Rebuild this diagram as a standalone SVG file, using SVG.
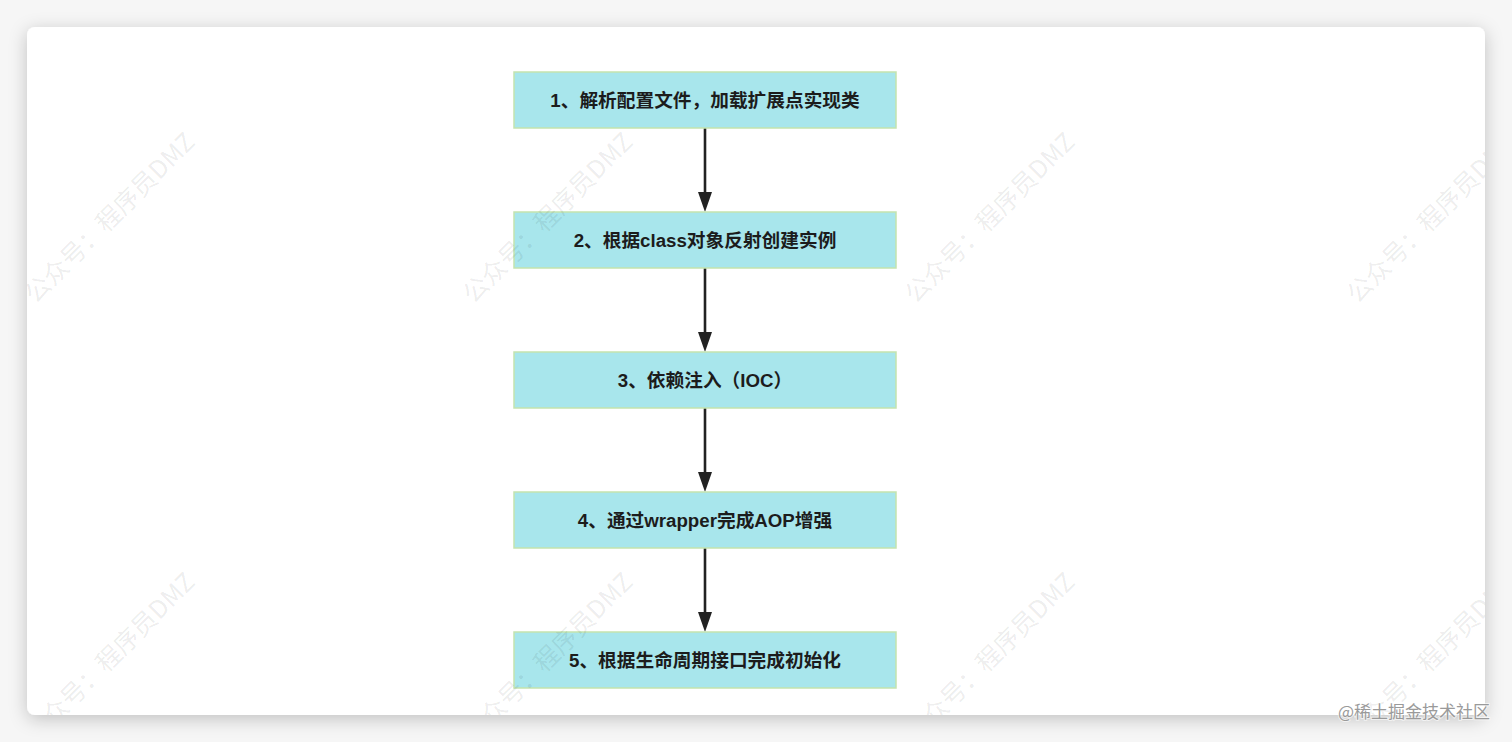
<svg xmlns="http://www.w3.org/2000/svg" width="1512" height="742" viewBox="0 0 1512 742">
  <style>
    .box { fill: #a8e6ec; stroke: #c3e3ae; stroke-width: 1.5; }
    .lbl { font-family: "Liberation Sans", "Noto Sans CJK SC", sans-serif; font-weight: bold; font-size: 18.7px; fill: #1c1c1c; text-anchor: middle; }
    .wm { font-family: "Noto Sans CJK SC", sans-serif; font-size: 25px; fill: #000; fill-opacity: 0.085; text-anchor: middle; }
    .conn { stroke: #222; stroke-width: 2.6; fill: none; }
    .credit { font-family: "Noto Sans CJK SC", sans-serif; font-size: 17px; fill: #9a9a9a; text-anchor: end; stroke: #ffffff; stroke-width: 2; stroke-opacity: 0.6; paint-order: stroke; }
  </style>
  <defs>
    <marker id="arrow" markerWidth="20" markerHeight="14" refX="4" refY="7" orient="auto" markerUnits="userSpaceOnUse" viewBox="0 0 20 14">
      <path d="M0 0 L20 7 L0 14 Z" fill="#222"/>
    </marker>
    <filter id="shadow" x="-5%" y="-5%" width="110%" height="115%">
      <feDropShadow dx="0" dy="4" stdDeviation="9" flood-color="#000" flood-opacity="0.22"/>
    </filter>
    <clipPath id="cardClip">
      <rect x="27" y="27" width="1458" height="688" rx="8"/>
    </clipPath>
  </defs>

  <rect x="0" y="0" width="1512" height="742" fill="#f6f6f6"/>
  <rect id="card" x="27" y="27" width="1458" height="688" rx="8" fill="#ffffff" filter="url(#shadow)"/>

  <g id="connectors">
    <line class="conn" x1="705" y1="128" x2="705" y2="196" marker-end="url(#arrow)"/>
    <line class="conn" x1="705" y1="268" x2="705" y2="336" marker-end="url(#arrow)"/>
    <line class="conn" x1="705" y1="408" x2="705" y2="476" marker-end="url(#arrow)"/>
    <line class="conn" x1="705" y1="548" x2="705" y2="616" marker-end="url(#arrow)"/>
  </g>

  <g id="node1">
    <rect class="box" x="514" y="72" width="382" height="56"/>
    <text class="lbl" x="705" y="106.5">1、解析配置文件，加载扩展点实现类</text>
  </g>
  <g id="node2">
    <rect class="box" x="514" y="212" width="382" height="56"/>
    <text class="lbl" x="705" y="246.5">2、根据class对象反射创建实例</text>
  </g>
  <g id="node3">
    <rect class="box" x="514" y="352" width="382" height="56"/>
    <text class="lbl" x="705" y="386.5">3、依赖注入（IOC）</text>
  </g>
  <g id="node4">
    <rect class="box" x="514" y="492" width="382" height="56"/>
    <text class="lbl" x="705" y="526.5">4、通过wrapper完成AOP增强</text>
  </g>
  <g id="node5">
    <rect class="box" x="514" y="632" width="382" height="56"/>
    <text class="lbl" x="705" y="666.5">5、根据生命周期接口完成初始化</text>
  </g>

  <g id="watermarks" clip-path="url(#cardClip)">
    <text class="wm" transform="translate(116 224) rotate(-45)">公众号：程序员DMZ</text>
    <text class="wm" transform="translate(554 224) rotate(-45)">公众号：程序员DMZ</text>
    <text class="wm" transform="translate(996 224) rotate(-45)">公众号：程序员DMZ</text>
    <text class="wm" transform="translate(1438 224) rotate(-45)">公众号：程序员DMZ</text>
    <text class="wm" transform="translate(116 664) rotate(-45)">公众号：程序员DMZ</text>
    <text class="wm" transform="translate(554 664) rotate(-45)">公众号：程序员DMZ</text>
    <text class="wm" transform="translate(996 664) rotate(-45)">公众号：程序员DMZ</text>
    <text class="wm" transform="translate(1438 664) rotate(-45)">公众号：程序员DMZ</text>
  </g>

  <text class="credit" x="1490" y="718">@稀土掘金技术社区</text>
</svg>
